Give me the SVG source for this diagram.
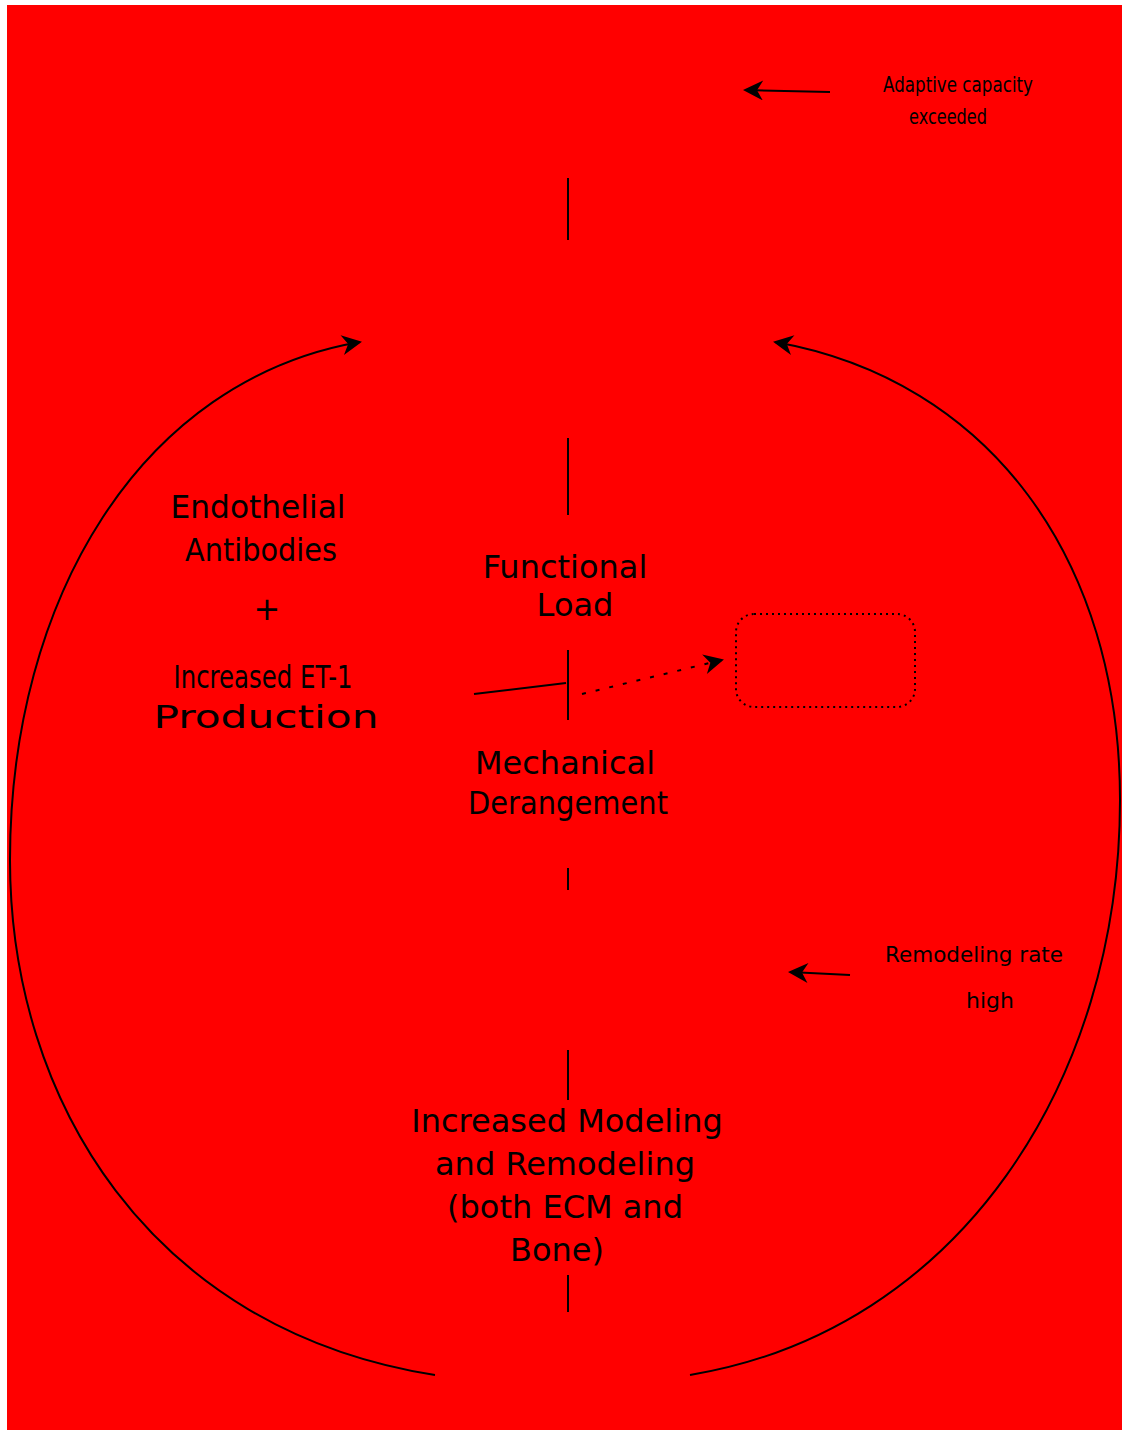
<svg xmlns="http://www.w3.org/2000/svg" width="1123" height="1435" viewBox="0 0 1123 1435">
<defs>
<style>
.t{font-family:"DejaVu Sans",sans-serif;font-size:32px;fill:#000;text-anchor:middle}
.s{font-family:"DejaVu Sans",sans-serif;font-size:22px;fill:#000;text-anchor:middle}
.c{fill:none;stroke:#000;stroke-width:2}
.d{fill:none;stroke:#000;stroke-width:2;stroke-dasharray:4 10}
</style>
<marker id="ab" viewBox="0 0 10 10" refX="9" refY="5" markerWidth="26" markerHeight="20" orient="auto" markerUnits="userSpaceOnUse">
<path d="M0,0 L10,5 L0,10 L3,5 Z" fill="#000"/>
</marker>
</defs>
<rect x="0" y="0" width="1123" height="1435" fill="#fff"/>
<rect x="7" y="5" width="1115" height="1425" fill="#f00"/>
<g id="connectors">
<path class="c" d="M435,1375 C150,1330 10,1100 10,860 C10,600 140,380 360,342" marker-end="url(#ab)"/>
<path class="c" d="M690,1375 C960,1330 1120,1080 1120,800 C1120,560 990,380 775,342" marker-end="url(#ab)"/>
<line class="c" x1="568" y1="178" x2="568" y2="240"/>
<line class="c" x1="568" y1="438" x2="568" y2="515"/>
<line class="c" x1="568" y1="650" x2="568" y2="720"/>
<line class="c" x1="474" y1="694" x2="566" y2="683"/>
<line class="d" x1="582" y1="694" x2="722" y2="660" marker-end="url(#ab)"/>
<line class="c" x1="568" y1="868" x2="568" y2="890"/>
<line class="c" x1="568" y1="1050" x2="568" y2="1100"/>
<line class="c" x1="568" y1="1275" x2="568" y2="1312"/>
<line class="c" x1="830" y1="92" x2="745" y2="90" marker-end="url(#ab)"/>
<line class="c" x1="850" y1="975" x2="790" y2="972" marker-end="url(#ab)"/>
</g>
<g id="box">
<rect x="736" y="614" width="179" height="93" rx="18" fill="none" stroke="#000" stroke-width="2" stroke-dasharray="2 4"/>
</g>
<g id="n-left">
<text class="t" x="258" y="518" textLength="175" lengthAdjust="spacingAndGlyphs">Endothelial</text>
<text class="t" x="261" y="561" textLength="152" lengthAdjust="spacingAndGlyphs">Antibodies</text>
<text class="t" x="267" y="620">+</text>
<text class="t" x="263" y="688" textLength="179" lengthAdjust="spacingAndGlyphs">Increased ET-1</text>
<text class="t" x="266" y="728" textLength="225" lengthAdjust="spacingAndGlyphs">Production</text>
</g>
<g id="n-func">
<text class="t" x="565" y="578">Functional</text>
<text class="t" x="575" y="616">Load</text>
</g>
<g id="n-mech">
<text class="t" x="565" y="774">Mechanical</text>
<text class="t" x="568" y="814" textLength="200" lengthAdjust="spacingAndGlyphs">Derangement</text>
</g>
<g id="n-model">
<text class="t" x="567" y="1132">Increased Modeling</text>
<text class="t" x="565" y="1175">and Remodeling</text>
<text class="t" x="565" y="1218">(both ECM and</text>
<text class="t" x="557" y="1261">Bone)</text>
</g>
<g id="n-topright">
<text class="s" x="958" y="92" textLength="150" lengthAdjust="spacingAndGlyphs">Adaptive capacity</text>
<text class="s" x="948" y="124" textLength="78" lengthAdjust="spacingAndGlyphs">exceeded</text>
</g>
<g id="n-botright">
<text class="s" x="974" y="962" textLength="178" lengthAdjust="spacingAndGlyphs">Remodeling rate</text>
<text class="s" x="990" y="1008">high</text>
</g>
</svg>
